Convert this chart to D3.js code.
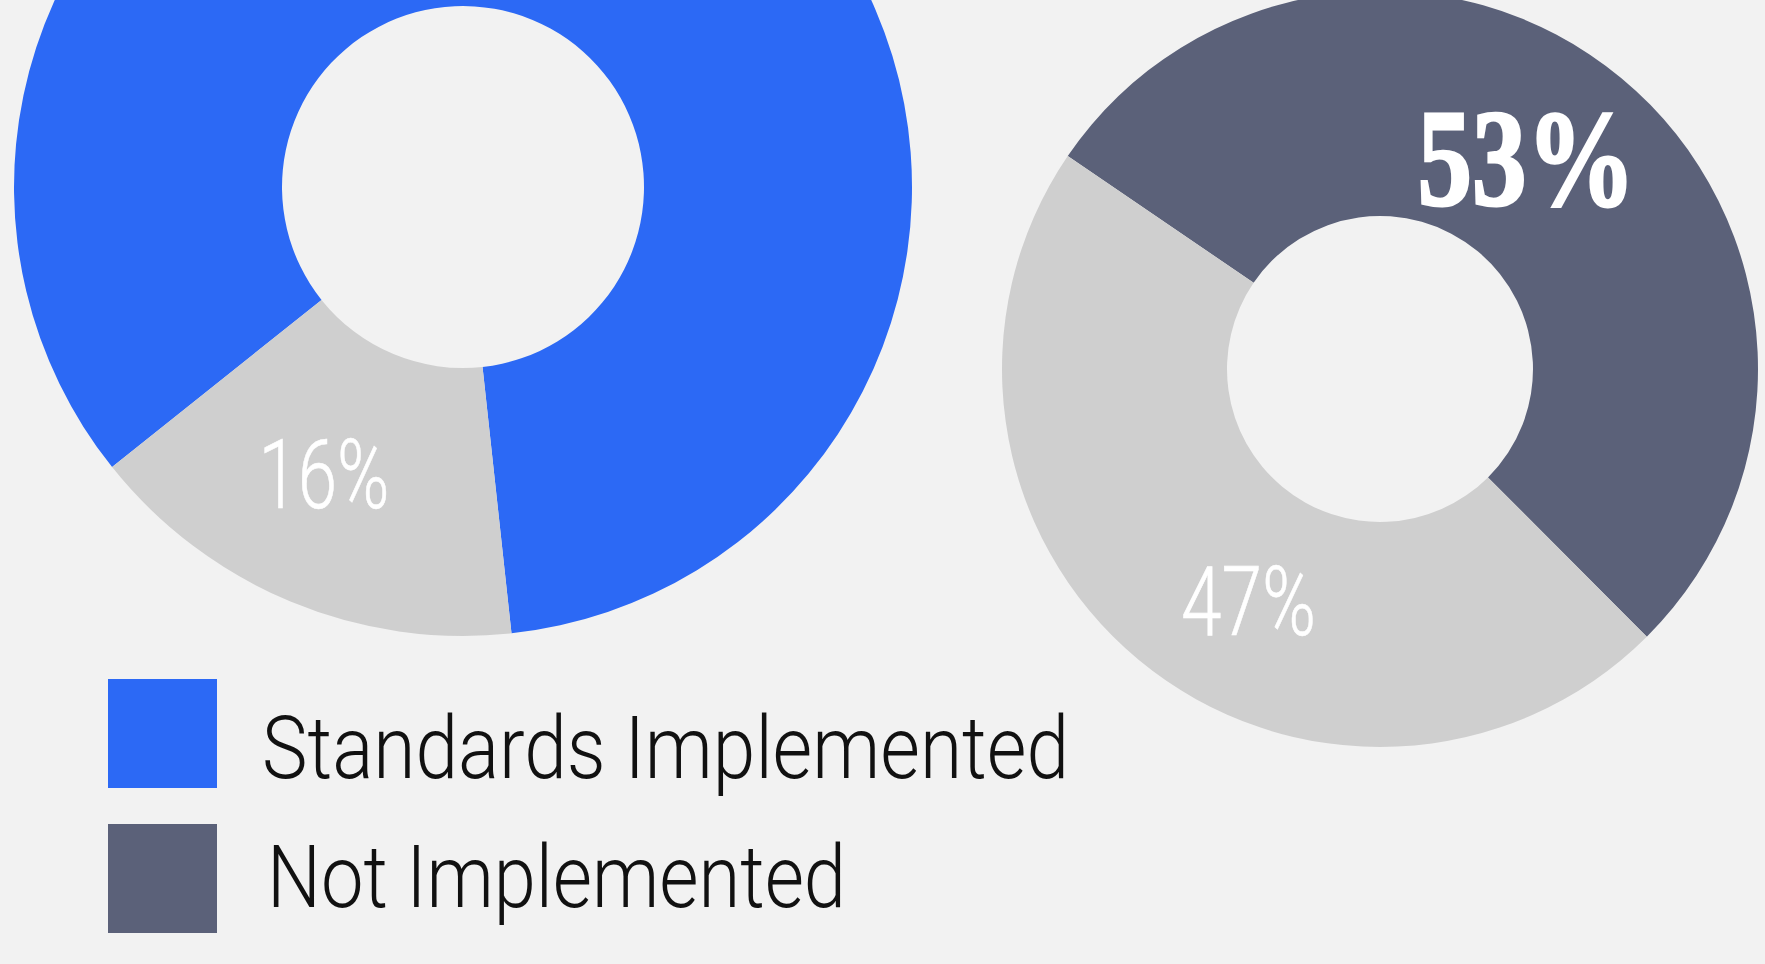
<!DOCTYPE html>
<html lang="en">
<head>
    <meta charset="UTF-8">
    <title>Standards Implemented</title>
    <script src="https://cdnjs.cloudflare.com/ajax/libs/d3/7.8.5/d3.min.js"></script>
    <style>
        * { margin: 0; padding: 0; box-sizing: border-box; }
        body { background: #f2f2f2; overflow: hidden; }
        svg { display: block; }
    </style>
</head>
<body>
    <div id="chart"></div>
    <script>
        // left donut: share of standards implemented
        const leftCategories = ["Standards Implemented", "Remainder"];
        const leftValues = [84, 16];
        const leftShown = ["", "16%"];

        // right donut: share not implemented
        const rightCategories = ["Not Implemented", "Remainder"];
        const rightValues = [53, 47];
        const rightShown = ["53%", "47%"];

        const legendLabels = ["Standards Implemented", "Not Implemented"];

        const width = 1765, height = 964;
        const colors = {
            "Standards Implemented": "#2c69f5",
            "Not Implemented": "#5b6179",
            "Remainder": "#cfcfcf"
        };

        const svg = d3.select("#chart").append("svg")
            .attr("width", width)
            .attr("height", height);

        svg.append("rect")
            .attr("width", width).attr("height", height)
            .attr("fill", "#f2f2f2");

        const deg = Math.PI / 180;

        function donut(opts) {
            const data = opts.categories.map((c, i) => ({ cat: c, value: opts.values[i], label: opts.shown[i] }));
            const pie = d3.pie().sort(null).value(d => d.value)
                .startAngle(opts.start * deg)
                .endAngle(opts.start * deg + 2 * Math.PI);
            const arc = d3.arc().innerRadius(opts.inner).outerRadius(opts.outer);

            const g = svg.append("g").attr("transform", `translate(${opts.cx},${opts.cy})`);
            const arcs = pie(data);

            g.selectAll("path")
                .data(arcs)
                .join("path")
                .attr("d", arc)
                .attr("fill", d => colors[d.data.cat]);

            g.selectAll("text")
                .data(arcs.filter(d => d.data.label))
                .join("text")
                .attr("x", d => arc.centroid(d)[0] + opts.labelStyle[d.index].dx)
                .attr("y", d => arc.centroid(d)[1] + opts.labelStyle[d.index].dy)
                .attr("text-anchor", "middle")
                .attr("fill", "#ffffff")
                .attr("stroke", "#ffffff")
                .attr("stroke-width", d => opts.labelStyle[d.index].stroke)
                .style("font-family", d => opts.labelStyle[d.index].font)
                .style("font-weight", d => opts.labelStyle[d.index].weight)
                .style("font-size", d => opts.labelStyle[d.index].size + "px")
                .attr("textLength", d => opts.labelStyle[d.index].len)
                .attr("lengthAdjust", "spacingAndGlyphs")
                .text(d => d.data.label);
        }

        const thin = "Roboto, 'Noto Sans', sans-serif";

        donut({
            categories: leftCategories, values: leftValues, shown: leftShown,
            cx: 463, cy: 187, outer: 449, inner: 181, start: -128.6,
            labelStyle: [
                null,
                { dx: -18, dy: 30, font: thin, weight: 300, size: 96, len: 131, stroke: 0.6 }
            ]
        });

        donut({
            categories: rightCategories, values: rightValues, shown: rightShown,
            cx: 1380, cy: 369, outer: 378, inner: 153, start: -55.7,
            labelStyle: [
                { dx: -23, dy: 40, font: "'Liberation Serif', 'DejaVu Serif', serif", weight: 700, size: 137, len: 218, stroke: 3 },
                { dx: 38, dy: 62, font: thin, weight: 300, size: 96, len: 135, stroke: 0.6 }
            ]
        });

        // legend
        const legend = svg.append("g");
        const legendWidths = [807, 579];
        const legendTextX = [262, 267];

        legend.selectAll("rect")
            .data(legendLabels)
            .join("rect")
            .attr("x", 108)
            .attr("y", (d, i) => 679 + i * 145)
            .attr("width", 109)
            .attr("height", 109)
            .attr("fill", d => colors[d]);

        legend.selectAll("text")
            .data(legendLabels)
            .join("text")
            .attr("x", (d, i) => legendTextX[i])
            .attr("y", (d, i) => 778 + i * 129)
            .attr("fill", "#111111")
            .style("font-family", thin)
            .style("font-weight", 300)
            .style("font-size", "88px")
            .attr("textLength", (d, i) => legendWidths[i])
            .attr("lengthAdjust", "spacingAndGlyphs")
            .text(d => d);
    </script>
</body>
</html>
